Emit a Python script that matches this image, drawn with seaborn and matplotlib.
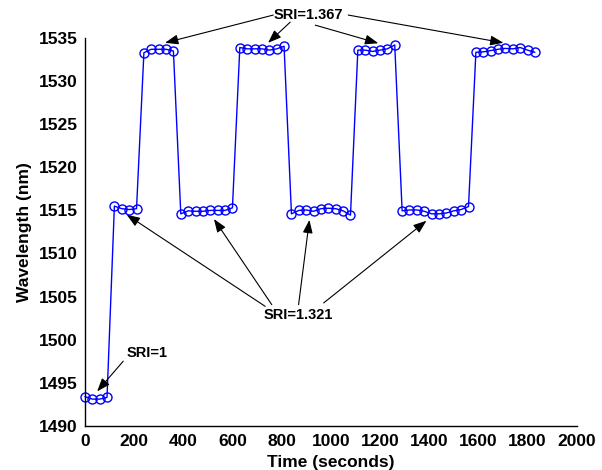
import matplotlib
matplotlib.use("Agg")
import matplotlib.pyplot as plt
import seaborn as sns
import pandas as pd

time_s = [0, 30, 60, 90,
          120, 150, 180, 210,
          240, 270, 300, 330, 360,
          390, 420, 450, 480, 510, 540, 570, 600,
          630, 660, 690, 720, 750, 780, 810,
          840, 870, 900, 930, 960, 990, 1020, 1050, 1080,
          1110, 1140, 1170, 1200, 1230, 1260,
          1290, 1320, 1350, 1380, 1410, 1440, 1470, 1500, 1530, 1560,
          1590, 1620, 1650, 1680, 1710, 1740, 1770, 1800, 1830]
wavelength_nm = [1493.4, 1493.1, 1493.1, 1493.3,
                 1515.5, 1515.2, 1515.1, 1515.2,
                 1533.3, 1533.7, 1533.7, 1533.7, 1533.5,
                 1514.6, 1514.95, 1514.9, 1514.9, 1515.0, 1515.0, 1515.0, 1515.3,
                 1533.9, 1533.75, 1533.75, 1533.75, 1533.6, 1533.75, 1534.05,
                 1514.6, 1515.0, 1515.05, 1514.9, 1515.2, 1515.25, 1515.2, 1514.95, 1514.45,
                 1533.6, 1533.6, 1533.45, 1533.6, 1533.75, 1534.2,
                 1514.95, 1515.05, 1515.05, 1514.9, 1514.6, 1514.6, 1514.7, 1514.95, 1515.1, 1515.45,
                 1533.35, 1533.4, 1533.55, 1533.7, 1533.8, 1533.75, 1533.9, 1533.6, 1533.35]

x_ticks = [0, 200, 400, 600, 800, 1000, 1200, 1400, 1600, 1800, 2000]
y_ticks = [1490, 1495, 1500, 1505, 1510, 1515, 1520, 1525, 1530, 1535]

labels = ["SRI=1.367", "SRI=1.321", "SRI=1"]
label_pos = [(908, 1537.7), (869, 1502.9), (254, 1498.5)]
# (start, tip) pairs for each label's arrows
arrows = [
    [((766, 1537.67), (326, 1534.45)),
     ((835, 1536.85), (745, 1534.45)),
     ((937, 1536.5), (1193, 1534.4)),
     ((1071, 1537.67), (1702, 1534.45))],
    [((733, 1503.87), (170, 1514.5)),
     ((760, 1504.06), (525, 1514.0)),
     ((869, 1504.06), (913, 1513.9)),
     ((971, 1504.26), (1389, 1513.8))],
    [((156, 1497.5), (50, 1494.0))],
]

sns.set_style("white")
plt.rcParams["font.family"] = ["Liberation Sans", "DejaVu Sans"]
plt.rcParams["font.weight"] = "bold"
plt.rcParams["text.color"] = "black"
plt.rcParams["axes.labelcolor"] = "black"

fig = plt.figure(figsize=(6.02, 4.70), dpi=100)
ax = fig.add_axes([0.141, 0.094, 0.817, 0.825])

df = pd.DataFrame({"t": time_s, "w": wavelength_nm})
sns.lineplot(data=df, x="t", y="w", ax=ax, estimator=None, sort=False,
             color="#0000ff", linewidth=1.0, marker="o", markersize=6.5,
             markerfacecolor="none", markeredgecolor="#0000ff",
             markeredgewidth=1.0, clip_on=False)

ax.set_xlim(0, 2000)
ax.set_ylim(1490, 1535)
ax.set_xticks(x_ticks)
ax.set_yticks(y_ticks)
ax.tick_params(direction="in", length=4, width=1, labelsize=12.5,
               colors="black")
ax.tick_params(axis="x", pad=6)
ax.tick_params(axis="y", pad=5)
for lab in ax.get_xticklabels() + ax.get_yticklabels():
    lab.set_fontweight("bold")
for s in ["top", "right"]:
    ax.spines[s].set_visible(False)
for s in ["left", "bottom"]:
    ax.spines[s].set_color("black")
    ax.spines[s].set_linewidth(1.0)

ax.set_xlabel("Time (seconds)", fontsize=12.5, fontweight="bold", labelpad=4)
ax.set_ylabel("Wavelength (nm)", fontsize=12.5, fontweight="bold", labelpad=5)

for lab, pos, arrs in zip(labels, label_pos, arrows):
    ax.text(pos[0], pos[1], lab, fontsize=10.5, fontweight="bold",
            ha="center", va="center", clip_on=False, color="black")
    for start, tip in arrs:
        ax.annotate("", xy=tip, xytext=start, textcoords="data",
                    annotation_clip=False,
                    arrowprops=dict(arrowstyle="-|>,head_length=0.8,head_width=0.3",
                                    color="black", lw=0.8,
                                    shrinkA=0, shrinkB=0))

fig.savefig("out.png", dpi=100)
